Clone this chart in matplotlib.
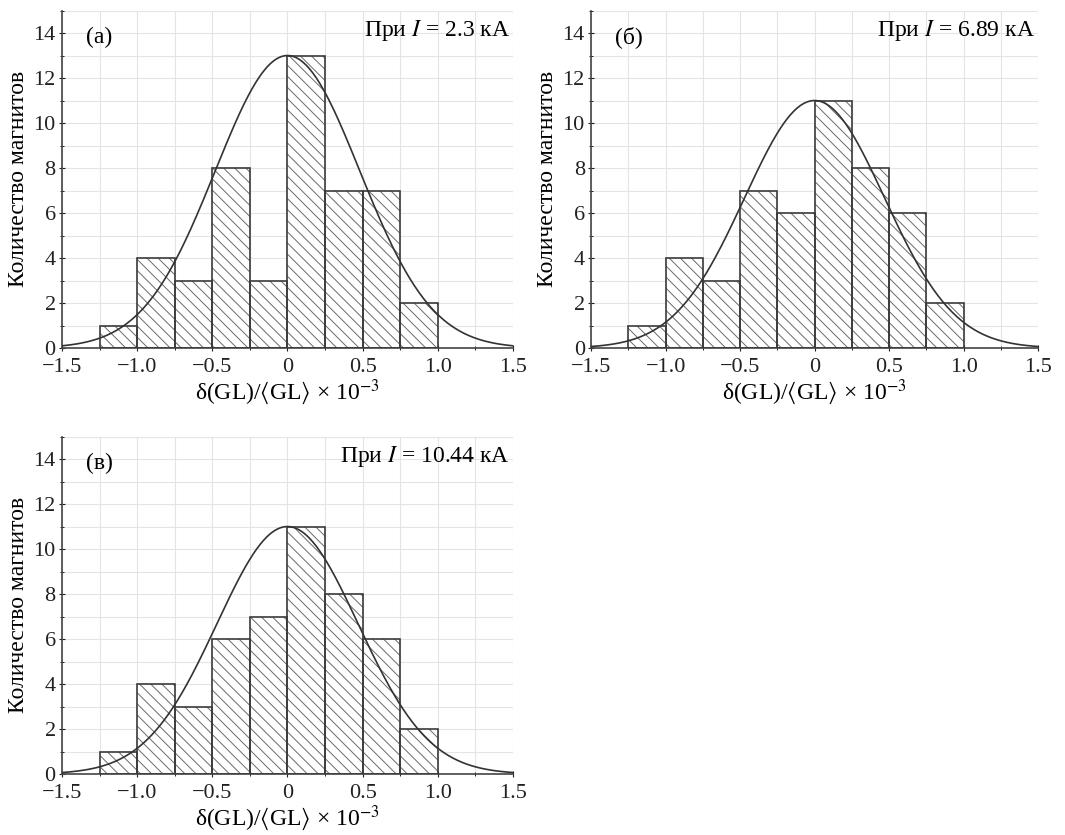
import numpy as np
import matplotlib
matplotlib.use("Agg")
import matplotlib.pyplot as plt
from matplotlib.ticker import MultipleLocator

plt.rcParams['font.family'] = ['Liberation Serif', 'DejaVu Serif']
plt.rcParams['mathtext.fontset'] = 'stix'
plt.rcParams['hatch.linewidth'] = 0.7

# bin edges of the histograms
bin_edges = [-1.25, -1.0, -0.75, -0.5, -0.25, 0.0, 0.25, 0.5, 0.75, 1.0]

counts_a = [1, 4, 3, 8, 3, 13, 7, 7, 2]
counts_b = [1, 4, 3, 7, 6, 11, 8, 6, 2]
counts_c = [1, 4, 3, 6, 7, 11, 8, 6, 2]

# fitted normal curves: amplitude, mean, sigma
fit_a = (13.0, 0.0, 0.48)
fit_b = (11.0, 0.0, 0.47)
fit_c = (11.0, 0.0, 0.47)

panel_tags = ['(а)', '(б)', '(в)']
currents = ['2.3', '6.89', '10.44']

xticks = [-1.5, -1.0, -0.5, 0, 0.5, 1.0, 1.5]
xticklabels = ['\u22121.5', '\u22121.0', '\u22120.5', '0', '0.5', '1.0', '1.5']
yticks = [0, 2, 4, 6, 8, 10, 12, 14]

fig = plt.figure(figsize=(10.65, 8.35), dpi=100)
positions = [[0.0582, 0.5832, 0.4235, 0.4042],
             [0.5550, 0.5832, 0.4197, 0.4042],
             [0.0582, 0.0730, 0.4235, 0.4042]]

for pos, counts, fit, tag, cur in zip(positions, [counts_a, counts_b, counts_c],
                                      [fit_a, fit_b, fit_c], panel_tags, currents):
    ax = fig.add_axes(pos)
    lefts = bin_edges[:-1]
    widths = np.diff(bin_edges)
    # hatch layer (light lines) and outline layer (dark edges)
    ax.bar(lefts, counts, width=widths, align='edge', facecolor='white',
           edgecolor='#6a6a6a', linewidth=0, hatch='\\\\\\', zorder=2)
    ax.bar(lefts, counts, width=widths, align='edge', fill=False,
           edgecolor='#3a3a3a', linewidth=1.2, zorder=3)
    amp, mu, sig = fit
    xs = np.linspace(-1.5, 1.5, 400)
    ax.plot(xs, amp*np.exp(-(xs-mu)**2/(2*sig**2)), color='#333333', lw=1.2, zorder=4)

    ax.set_xlim(-1.5, 1.5)
    ax.set_ylim(0, 15)
    ax.set_xticks(xticks)
    ax.set_xticklabels(xticklabels)
    ax.set_yticks(yticks)
    ax.xaxis.set_minor_locator(MultipleLocator(0.25))
    ax.yaxis.set_minor_locator(MultipleLocator(1))
    ax.grid(True, which='both', color='#e4e4e4', lw=0.8, zorder=0)
    ax.set_axisbelow(True)
    for s in ['top', 'right']:
        ax.spines[s].set_visible(False)
    for s in ['left', 'bottom']:
        ax.spines[s].set_color('#444444')
        ax.spines[s].set_linewidth(1.2)
    ax.tick_params(labelsize=16, colors='#222222', direction='inout', length=5)
    ax.tick_params(axis='x', pad=5)
    ax.tick_params(axis='y', pad=2)
    ax.tick_params(which='minor', length=3, direction='inout')
    ax.set_xlabel(r'δ(GL)/$\langle$GL$\rangle$ × 10$^{-3}$', fontsize=17, labelpad=0)
    ax.set_ylabel('Количество магнитов', fontsize=17, labelpad=3)

    ax.text(-1.34, 13.8, tag, fontsize=17, ha='left', va='center')
    ax.text(1.48, 14.1, 'При $I$ = ' + cur + ' кА', fontsize=17, ha='right', va='center')

fig.savefig('out.png', dpi=100)
